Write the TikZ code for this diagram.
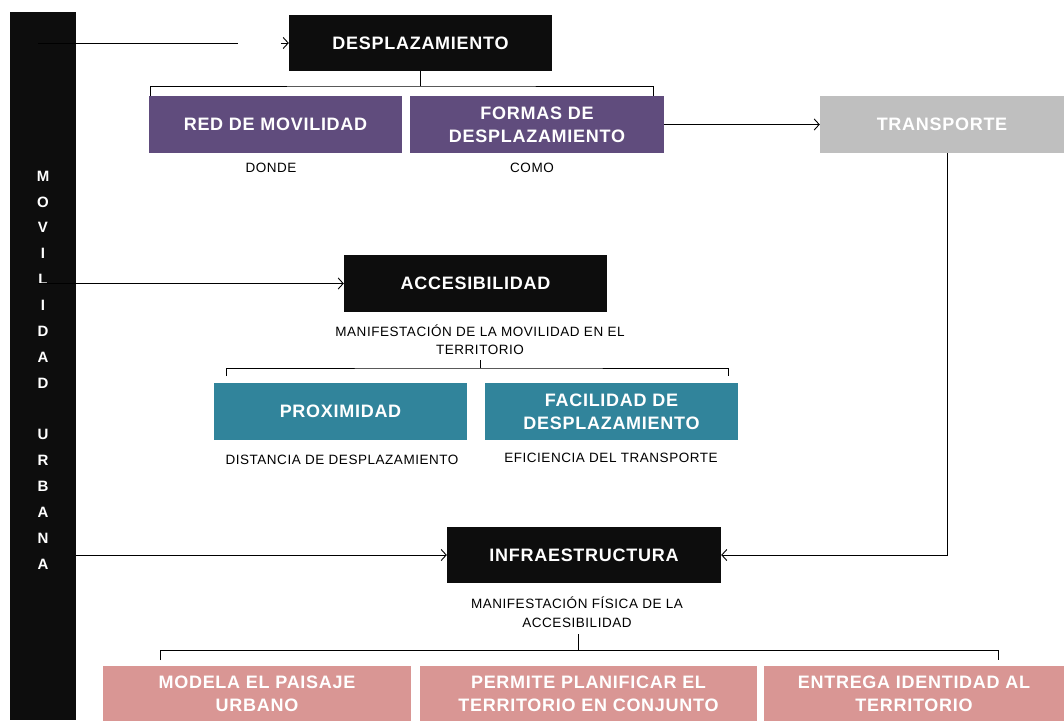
\documentclass[tikz,border=0pt]{standalone}
\usepackage{fontspec}
\setmainfont{Liberation Sans}[LetterSpace=4]
\usetikzlibrary{arrows.meta,calc}
\definecolor{cpurple}{HTML}{604C7D}
\definecolor{cteal}{HTML}{31849B}
\definecolor{cgray}{HTML}{BFBFBF}
\definecolor{cpink}{HTML}{D99694}
\definecolor{cblack}{HTML}{0D0D0D}
\tikzset{
  box/.style={fill=#1, draw=none, text=white, align=center, inner sep=0pt,
    font=\bfseries\fontsize{18}{23}\selectfont},
  caption/.style={text=black, align=center, inner sep=0pt,
    font=\fontsize{13.5}{18.5}\selectfont\addfontfeatures{LetterSpace=4}},
  conn/.style={draw=black, line width=0.9pt},
  arr/.style={conn, -{Straight Barb[length=5pt,width=11pt]}},
}
\begin{document}
\begin{tikzpicture}[x=1pt,y=-1pt]
\useasboundingbox (0,0) rectangle (1064,720);
\fill[white] (0,0) rectangle (1064,720);
% left bar
\node[fill=cblack, minimum width=66, minimum height=708, inner sep=0pt] (bar) at (43,366) {};
\node[text=white, align=center, inner sep=0pt, font=\bfseries\fontsize{15}{25.87}\selectfont] (barlbl) at (43,370)
  {M\\O\\V\\I\\L\\I\\D\\A\\D\\ \\U\\R\\B\\A\\N\\A};
% boxes
\node[box=cblack, minimum width=263, minimum height=56] (desp) at (420.5,43) {DESPLAZAMIENTO};
\node[box=cpurple, minimum width=253, minimum height=57] (red) at (275.5,124.5) {RED DE MOVILIDAD};
\node[box=cpurple, minimum width=254, minimum height=57] (formas) at (537,124.5) {FORMAS DE\\DESPLAZAMIENTO};
\node[box=cgray, minimum width=244, minimum height=57] (transp) at (942,124.5) {TRANSPORTE};
\node[box=cblack, minimum width=263, minimum height=57] (acces) at (475.5,283.5) {ACCESIBILIDAD};
\node[box=cteal, minimum width=253, minimum height=57] (prox) at (340.5,411.5) {PROXIMIDAD};
\node[box=cteal, minimum width=253, minimum height=57] (facil) at (611.5,411.5) {FACILIDAD DE\\DESPLAZAMIENTO};
\node[box=cblack, minimum width=274, minimum height=56] (infra) at (584,555) {INFRAESTRUCTURA};
\node[box=cpink, minimum width=308, minimum height=56] (modela) at (257,694) {MODELA EL PAISAJE\\URBANO};
\node[box=cpink, minimum width=337, minimum height=56] (permite) at (588.5,694) {PERMITE PLANIFICAR EL\\TERRITORIO EN CONJUNTO};
\node[box=cpink, minimum width=300, minimum height=56] (entrega) at (914,694) {ENTREGA IDENTIDAD AL\\TERRITORIO};
% captions
\node[caption] (donde) at (271,168) {DONDE};
\node[caption] (como) at (532,168) {COMO};
\node[caption] (acccap) at (480,339.5) {MANIFESTACIÓN DE LA MOVILIDAD EN EL\\TERRITORIO};
\node[caption] (dist) at (342,460) {DISTANCIA DE DESPLAZAMIENTO};
\node[caption] (efic) at (611,458) {EFICIENCIA DEL TRANSPORTE};
\node[caption] (infcap) at (577,612) {MANIFESTACIÓN FÍSICA DE LA\\ACCESIBILIDAD};
% connector points
\coordinate (b1) at (38,43);
\coordinate (g1) at (238,43);
\coordinate (b2) at (38,283.5);
\coordinate (b3) at (76,555);
\coordinate (k1l) at (150,96);
\coordinate (k1r) at (653,96);
\coordinate (k1m) at (420.5,86);
\coordinate (k2l) at (226,376);
\coordinate (k2r) at (728,376);
\coordinate (k2m) at (480,368);
\coordinate (k2t) at (480,360);
\coordinate (k3l) at (160,660);
\coordinate (k3r) at (998,660);
\coordinate (k3m) at (578,650);
\coordinate (k3t) at (578,634);
% connectors
\draw[conn] (b1) -- (g1);
\draw[arr] ($(desp.west)+(-8,0)$) -- (desp.west);
\draw[conn] (desp.south) -- (k1m);
\draw[conn] (k1l) |- (k1m) -| (k1r);
\draw[arr] (formas.east) -- (transp.west);
\draw[arr] ([xshift=5]transp.south) |- (infra.east);
\draw[arr] (b2) -- (acces.west);
\draw[arr] (b3) -- (infra.west);
\draw[conn] (k2t) -- (k2m);
\draw[conn] (k2l) |- (k2m) -| (k2r);
\draw[conn] (k3t) -- (k3m);
\draw[conn] (k3l) |- (k3m) -| (k3r);
\end{tikzpicture}
\end{document}
